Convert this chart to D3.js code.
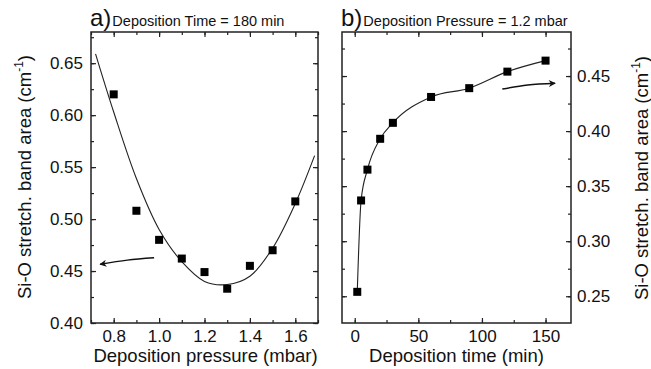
<!DOCTYPE html>
<html>
<head>
<meta charset="utf-8">
<script src="https://cdn.jsdelivr.net/npm/d3@7"></script>
<style>
  body { margin: 0; background: #fff; }
  svg text { font-family: "Liberation Sans", Arial, sans-serif; fill: #111; }
</style>
</head>
<body>
<div id="chart"></div>
<script>
// panel a: area vs deposition pressure
const pressure = [0.8, 0.9, 1.0, 1.1, 1.2, 1.3, 1.4, 1.5, 1.6];
const areaByPressure = [0.620, 0.508, 0.480, 0.462, 0.449, 0.433, 0.455, 0.470, 0.517];
const fitPressure = [0.72, 0.8, 0.9, 1.0, 1.1, 1.2, 1.3, 1.4, 1.5, 1.6, 1.685];
const fitArea = [0.659, 0.603, 0.539, 0.490, 0.459, 0.440, 0.437, 0.445, 0.472, 0.515, 0.561];
const pressureTicks = [0.8, 1.0, 1.2, 1.4, 1.6];
const areaTicksA = [0.40, 0.45, 0.50, 0.55, 0.60, 0.65];

// panel b: area vs deposition time
const time = [2, 5, 10, 20, 30, 60, 90, 120, 150];
const areaByTime = [0.254, 0.337, 0.365, 0.393, 0.4075, 0.431, 0.439, 0.454, 0.464];
const timeTicks = [0, 50, 100, 150];
const areaTicksB = [0.25, 0.30, 0.35, 0.40, 0.45];

// arrows pointing at the axis each series belongs to (data units)
const arrowA = [[0.978, 0.4627], [0.86, 0.4605], [0.74, 0.4565]];
const arrowB = [[116, 0.4382], [136, 0.4418], [157.5, 0.4434]];

const yLabel = "Si-O stretch. band area (cm";

const width = 651, height = 369;
const boxA = {x0: 91, x1: 318, y0: 32, y1: 323};
const boxB = {x0: 342, x1: 571, y0: 32, y1: 323};

const svg = d3.select("#chart").append("svg")
  .attr("width", width)
  .attr("height", height);

const defs = svg.append("defs");
defs.append("marker")
  .attr("id", "head")
  .attr("viewBox", "0 0 10 10")
  .attr("refX", 9)
  .attr("refY", 5)
  .attr("markerWidth", 8)
  .attr("markerHeight", 7)
  .attr("markerUnits", "userSpaceOnUse")
  .attr("orient", "auto")
  .append("path")
    .attr("d", "M0,0 L10,5 L0,10 L3,5 Z")
    .attr("fill", "#111");

const xA = d3.scaleLinear().domain([0.7, 1.7]).range([boxA.x0, boxA.x1]);
const yA = d3.scaleLinear().domain([0.40, 0.68]).range([boxA.y1, boxA.y0]);
const xB = d3.scaleLinear().domain([-10, 170]).range([boxB.x0, boxB.x1]);
const yB = d3.scaleLinear().domain([0.2257, 0.49]).range([boxB.y1, boxB.y0]);

function minors(scale, step) {
  const [a, b] = scale.domain();
  const out = [];
  for (let v = Math.ceil(a / step - 1e-6) * step; v <= b + 1e-9; v += step) out.push(+v.toFixed(4));
  return out;
}

function frame(box, x, y, xMajor, xStep, yMajor, yStep, xFmt, yFmt, labelSide) {
  const g = svg.append("g");
  const addAxis = (axis, tx, ty, noText) => {
    const a = g.append("g")
      .attr("transform", `translate(${tx},${ty})`)
      .call(axis);
    a.select(".domain").remove();
    a.selectAll("line").attr("stroke", "#222").attr("stroke-width", 1.2);
    a.selectAll("text").attr("font-size", 17).attr("fill", "#111");
    if (noText) a.selectAll("text").remove();
    return a;
  };

  // bottom / top
  addAxis(d3.axisBottom(x).tickValues(xMajor).tickSize(-5).tickPadding(7).tickFormat(xFmt), 0, box.y1);
  addAxis(d3.axisBottom(x).tickValues(minors(x, xStep)).tickSize(-3).tickFormat(""), 0, box.y1, true);
  addAxis(d3.axisTop(x).tickValues(xMajor).tickSize(-5).tickFormat(""), 0, box.y0, true);
  addAxis(d3.axisTop(x).tickValues(minors(x, xStep)).tickSize(-3).tickFormat(""), 0, box.y0, true);

  // left / right
  const leftLab = labelSide === "left";
  addAxis(d3.axisLeft(y).tickValues(yMajor).tickSize(-5).tickPadding(8).tickFormat(yFmt), box.x0, 0, !leftLab);
  addAxis(d3.axisLeft(y).tickValues(minors(y, yStep)).tickSize(-3).tickFormat(""), box.x0, 0, true);
  addAxis(d3.axisRight(y).tickValues(yMajor).tickSize(-5).tickPadding(6).tickFormat(yFmt), box.x1, 0, leftLab);
  addAxis(d3.axisRight(y).tickValues(minors(y, yStep)).tickSize(-3).tickFormat(""), box.x1, 0, true);

  g.append("rect")
    .attr("x", box.x0)
    .attr("y", box.y0)
    .attr("width", box.x1 - box.x0)
    .attr("height", box.y1 - box.y0)
    .attr("fill", "none")
    .attr("stroke", "#222")
    .attr("stroke-width", 1.5);
  return g;
}

frame(boxA, xA, yA, pressureTicks, 0.1, areaTicksA, 0.025, d3.format(".1f"), d3.format(".2f"), "left");
frame(boxB, xB, yB, timeTicks, 25, areaTicksB, 0.025, d3.format("d"), d3.format(".2f"), "right");

// fit curve, panel a
const fitLine = d3.line()
  .x(d => xA(d[0]))
  .y(d => yA(d[1]))
  .curve(d3.curveCatmullRom);

svg.append("path")
  .datum(d3.zip(fitPressure, fitArea))
  .attr("d", fitLine)
  .attr("fill", "none")
  .attr("stroke", "#222")
  .attr("stroke-width", 1.1);

svg.append("g").selectAll("rect")
  .data(d3.zip(pressure, areaByPressure))
  .join("rect")
    .attr("x", d => xA(d[0]) - 4)
    .attr("y", d => yA(d[1]) - 4)
    .attr("width", 8)
    .attr("height", 8)
    .attr("fill", "#000");

// connecting curve, panel b
const timeLine = d3.line()
  .x(d => xB(d[0]))
  .y(d => yB(d[1]))
  .curve(d3.curveMonotoneX);

svg.append("path")
  .datum(d3.zip(time, areaByTime))
  .attr("d", timeLine)
  .attr("fill", "none")
  .attr("stroke", "#222")
  .attr("stroke-width", 1.1);

svg.append("g").selectAll("rect")
  .data(d3.zip(time, areaByTime))
  .join("rect")
    .attr("x", d => xB(d[0]) - 4)
    .attr("y", d => yB(d[1]) - 4)
    .attr("width", 8)
    .attr("height", 8)
    .attr("fill", "#000");

// arrows
svg.append("path")
  .datum(arrowA)
  .attr("d", d3.line().x(d => xA(d[0])).y(d => yA(d[1])).curve(d3.curveNatural))
  .attr("fill", "none")
  .attr("stroke", "#111")
  .attr("stroke-width", 1.5)
  .attr("marker-end", "url(#head)");

svg.append("path")
  .datum(arrowB)
  .attr("d", d3.line().x(d => xB(d[0])).y(d => yB(d[1])).curve(d3.curveNatural))
  .attr("fill", "none")
  .attr("stroke", "#111")
  .attr("stroke-width", 1.5)
  .attr("marker-end", "url(#head)");

// panel titles
const titleA = svg.append("text").attr("x", boxA.x0 - 1).attr("y", 26);
titleA.append("tspan").attr("font-size", 24).text("a)");
titleA.append("tspan").attr("font-size", 14.5).attr("dx", 1).text("Deposition Time = 180 min");

const titleB = svg.append("text").attr("x", boxB.x0 - 1).attr("y", 26);
titleB.append("tspan").attr("font-size", 24).text("b)");
titleB.append("tspan").attr("font-size", 14.5).attr("dx", 1).text("Deposition Pressure = 1.2 mbar");

// axis titles
svg.append("text")
  .attr("x", (boxA.x0 + boxA.x1) / 2 + 1)
  .attr("y", 362)
  .attr("text-anchor", "middle")
  .attr("font-size", 18.5)
  .text("Deposition pressure (mbar)");

svg.append("text")
  .attr("x", (boxB.x0 + boxB.x1) / 2)
  .attr("y", 362)
  .attr("text-anchor", "middle")
  .attr("font-size", 18.5)
  .text("Deposition time (min)");

function yTitle(cx, cy) {
  const t = svg.append("text")
    .attr("transform", `translate(${cx},${cy}) rotate(-90)`)
    .attr("text-anchor", "middle")
    .attr("font-size", 18.5);
  t.append("tspan").text(yLabel);
  t.append("tspan").attr("font-size", 12).attr("dy", -8).text("-1");
  t.append("tspan").attr("dy", 8).text(")");
}
yTitle(31, 177);
yTitle(648, 178);
</script>
</body>
</html>
